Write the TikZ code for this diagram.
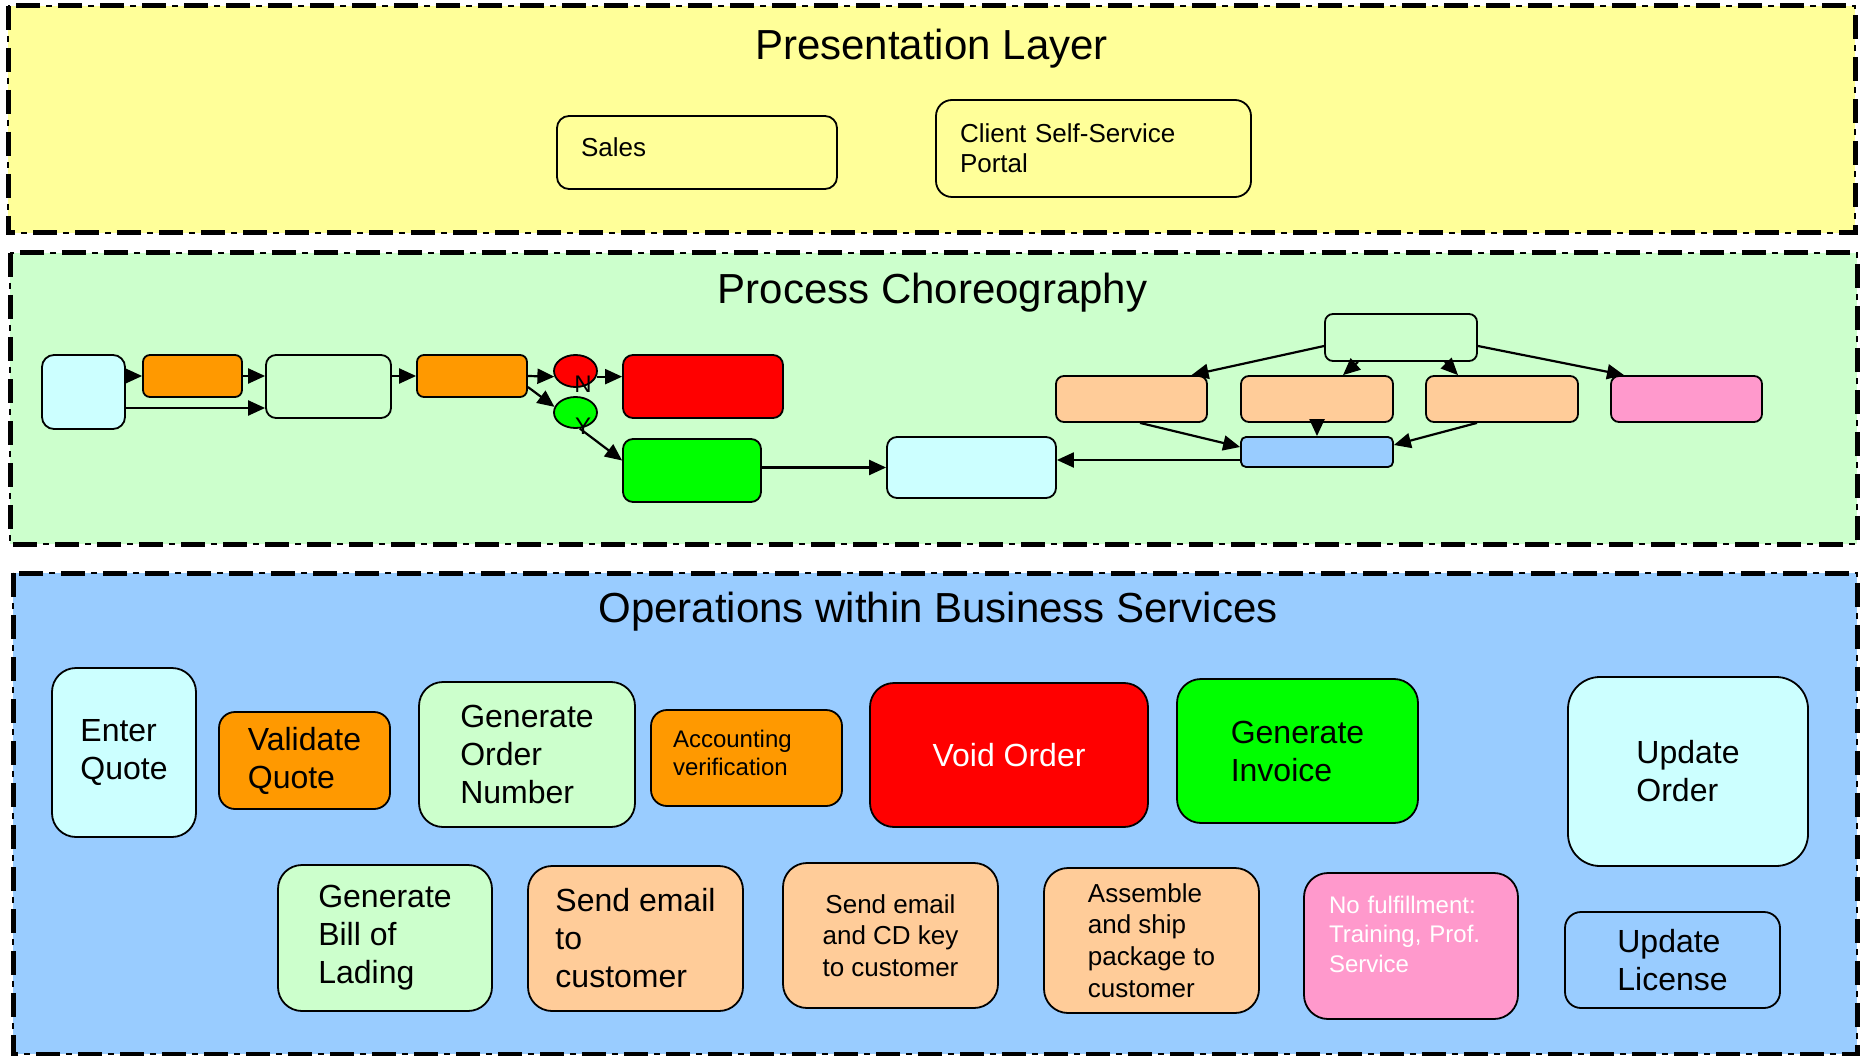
\documentclass[tikz,border=0pt]{standalone}
\usepackage{fontspec}
\setmainfont{Liberation Sans}
\usetikzlibrary{arrows.meta,shapes.geometric}

\definecolor{bgYellow}{HTML}{FFFF99}
\definecolor{bgGreen}{HTML}{CCFFCC}
\definecolor{bgBlue}{HTML}{99CCFF}
\definecolor{cyanL}{HTML}{CCFFFF}
\definecolor{orangeC}{HTML}{FF9900}
\definecolor{redC}{HTML}{FF0000}
\definecolor{greenC}{HTML}{00FF00}
\definecolor{peachC}{HTML}{FFCC99}
\definecolor{pinkC}{HTML}{FF99CC}

\tikzset{
  layerthick/.style={line width=5pt, dash pattern=on 24pt off 18pt},
  layerthin/.style={line width=1.5pt, dash pattern=on 24pt off 6pt on 6pt off 6pt},
  layertitle/.style={anchor=base, inner sep=0pt, font=\fontsize{42}{50}\selectfont},
  procbox/.style={draw=black, line width=1.8pt, inner sep=0pt},
  boxdim/.style 2 args={minimum width=#1pt, minimum height=#2pt},
  opbox/.style={procbox, align=left, font=\fontsize{32}{38}\selectfont},
  gatelabel/.style={inner sep=0pt, font=\fontsize{24}{24}\selectfont},
  flow/.style={draw=black, line width=2.2pt, -{Triangle[length=17pt,width=15pt]}},
}

\begin{document}
\begin{tikzpicture}[x=1pt,y=-1pt]
\useasboundingbox (0,0) rectangle (1860,1056);
\fill[white] (0,0) rectangle (1860,1056);

% --- layer panels ---
\fill[bgYellow] (8,6) rectangle (1855,233);
\fill[bgGreen] (10,253) rectangle (1857,544);
\fill[bgBlue] (13,573) rectangle (1857,1054);
\foreach \a/\b in {{(8,6)}/{(1855,233)}, {(10,253)}/{(1857,544)}, {(13,573)}/{(1857,1054)}}{
  \draw[layerthin] \a rectangle \b;
  \draw[layerthick] \a rectangle \b;
}

\node[layertitle] (tPres) at (931.5,60) {Presentation Layer};
\node[layertitle] (tProc) at (932.5,304) {Process Choreography};
\node[layertitle] (tOps) at (938,622) {Operations within Business Services};

% --- presentation layer ---
\node[procbox, fill=bgYellow, boxdim={280}{73}, rounded corners=12pt, text width=232pt,
      align=left, text depth=10pt, font=\fontsize{26}{30}\selectfont] (sales) at (697,152.5) {Sales};
\node[procbox, fill=bgYellow, boxdim={315}{97}, rounded corners=16pt, text width=267pt,
      align=left, font=\fontsize{26}{30}\selectfont] (portal) at (1093.5,148.5) {Client Self-Service\\Portal};

% --- process choreography ---
\node[procbox, fill=cyanL,   boxdim={83}{74},  rounded corners=12pt] (pEnter) at (83.5,392) {};
\node[procbox, fill=orangeC, boxdim={99}{42},  rounded corners=7pt]  (pValid) at (192.5,376) {};
\node[procbox, fill=bgGreen, boxdim={125}{63}, rounded corners=10pt] (pGen)   at (328.5,386.5) {};
\node[procbox, fill=orangeC, boxdim={110}{42}, rounded corners=7pt]  (pAcc)   at (472,376) {};
\node[procbox, ellipse, fill=redC,   boxdim={43}{32}] (cN) at (575.5,371) {};
\node[procbox, ellipse, fill=greenC, boxdim={43}{31}] (cY) at (575.5,412.5) {};
\node[procbox, fill=redC,    boxdim={160}{63}, rounded corners=10pt] (pVoid)  at (703,386.5) {};
\node[procbox, fill=greenC,  boxdim={138}{63}, rounded corners=10pt] (pInv)   at (692,470.5) {};
\node[procbox, fill=cyanL,   boxdim={169}{61}, rounded corners=10pt] (pUpd)   at (971.5,467.5) {};
\node[procbox, fill=bgGreen, boxdim={152}{47}, rounded corners=8pt]  (pTop)   at (1401,337.5) {};
\node[procbox, fill=peachC,  boxdim={151}{46}, rounded corners=8pt]  (pP1)    at (1131.5,399) {};
\node[procbox, fill=peachC,  boxdim={152}{46}, rounded corners=8pt]  (pP2)    at (1317,399) {};
\node[procbox, fill=peachC,  boxdim={152}{46}, rounded corners=8pt]  (pP3)    at (1502,399) {};
\node[procbox, fill=pinkC,   boxdim={151}{46}, rounded corners=8pt]  (pPink)  at (1686.5,399) {};
\node[procbox, fill=bgBlue,  boxdim={152}{30}, rounded corners=5pt]  (pBlue)  at (1317,452) {};

\draw[flow] (pEnter.east |- pValid.west) -- (pValid.west);
\draw[flow] (pValid.east) -- (pValid.east -| pGen.west);
\draw[flow] ([yshift=-16pt]pEnter.east) -- ([yshift=-16pt]pEnter.east -| pGen.west);
\draw[flow] (pGen.east |- pAcc.east) -- (pAcc.west);
\draw[flow] (pAcc.east) -- (cN.195);
\draw[flow] ([yshift=-11pt]pAcc.east) -- (cY.165);
\draw[flow] (cN.-15) -- (cN.-15 -| pVoid.west);
\draw[flow] (cY.-75) -- ([yshift=10pt]pInv.west);
\draw[flow] (pInv.east |- pUpd.west) -- (pUpd.west);
\draw[flow] ([yshift=-8pt]pBlue.west) -- ([yshift=-8pt]pBlue.west -| pUpd.east);
\draw[flow] ([yshift=-8.5pt]pTop.west) -- ([xshift=60pt]pP1.north);
\draw[flow] ([xshift=-43pt]pTop.south) -- ([xshift=26pt]pP2.north);
\draw[flow] ([xshift=44pt]pTop.south) -- ([xshift=-44pt]pP3.north);
\draw[flow] ([yshift=-8.5pt]pTop.east) -- ([xshift=-62.5pt]pPink.north);
\draw[flow] ([xshift=8.5pt]pP1.south) -- ([yshift=5pt]pBlue.west);
\draw[flow] (pP2.south) -- (pBlue.north);
\draw[flow] ([xshift=-25pt]pP3.south) -- ([yshift=7pt]pBlue.east);

\node[gatelabel] (lblN) at (583,384) {N};
\node[gatelabel] (lblY) at (583,426) {Y};

% --- operations within business services ---
\node[opbox, fill=cyanL,   boxdim={144}{169}, rounded corners=24pt] (oEnter) at (124,752.5) {Enter\\Quote};
\node[opbox, fill=orangeC, boxdim={171}{97},  rounded corners=16pt] (oValid) at (304.5,760.5) {Validate\\Quote};
\node[opbox, fill=bgGreen, boxdim={216}{145}, rounded corners=24pt] (oOrder) at (527,754.5) {Generate\\Order\\Number};
\node[opbox, fill=orangeC, boxdim={191}{96},  rounded corners=16pt, font=\fontsize{24}{28}\selectfont,
      text width=147pt, inner xsep=22pt, text depth=39pt] (oAcc) at (746.5,758) {Accounting\\verification};
\node[opbox, fill=redC, text=white, boxdim={278}{144}, rounded corners=24pt] (oVoid) at (1009,755) {Void Order};
\node[opbox, fill=greenC,  boxdim={241}{144}, rounded corners=24pt] (oInv) at (1297.5,751) {Generate\\Invoice};
\node[opbox, fill=cyanL,   boxdim={240}{189}, rounded corners=32pt] (oUpd) at (1688,771.5) {Update\\Order};
\node[opbox, fill=bgGreen, boxdim={214}{146}, rounded corners=24pt] (oBill) at (385,938) {Generate\\Bill of\\Lading};
\node[opbox, fill=peachC,  boxdim={215}{145}, rounded corners=24pt] (oMail) at (635.5,938.5) {Send email\\to\\customer};
\node[opbox, fill=peachC,  boxdim={215}{145}, rounded corners=24pt, align=center,
      font=\fontsize{26}{31.5}\selectfont] (oKey) at (890.5,935.5) {Send email\\and CD key\\to customer};
\node[opbox, fill=peachC,  boxdim={215}{145}, rounded corners=24pt,
      font=\fontsize{26}{31.7}\selectfont] (oShip) at (1151.5,940.5) {Assemble\\and ship\\package to\\customer};
\node[opbox, fill=pinkC, text=white, boxdim={214}{146}, rounded corners=24pt, font=\fontsize{24}{29.5}\selectfont,
      text width=164pt, inner xsep=25pt, text depth=83pt] (oNone) at (1411,946) {No fulfillment:\\Training, Prof.\\Service};
\node[opbox, fill=bgBlue,  boxdim={215}{96},  rounded corners=16pt] (oLic) at (1672.5,960) {Update\\License};
\end{tikzpicture}
\end{document}
